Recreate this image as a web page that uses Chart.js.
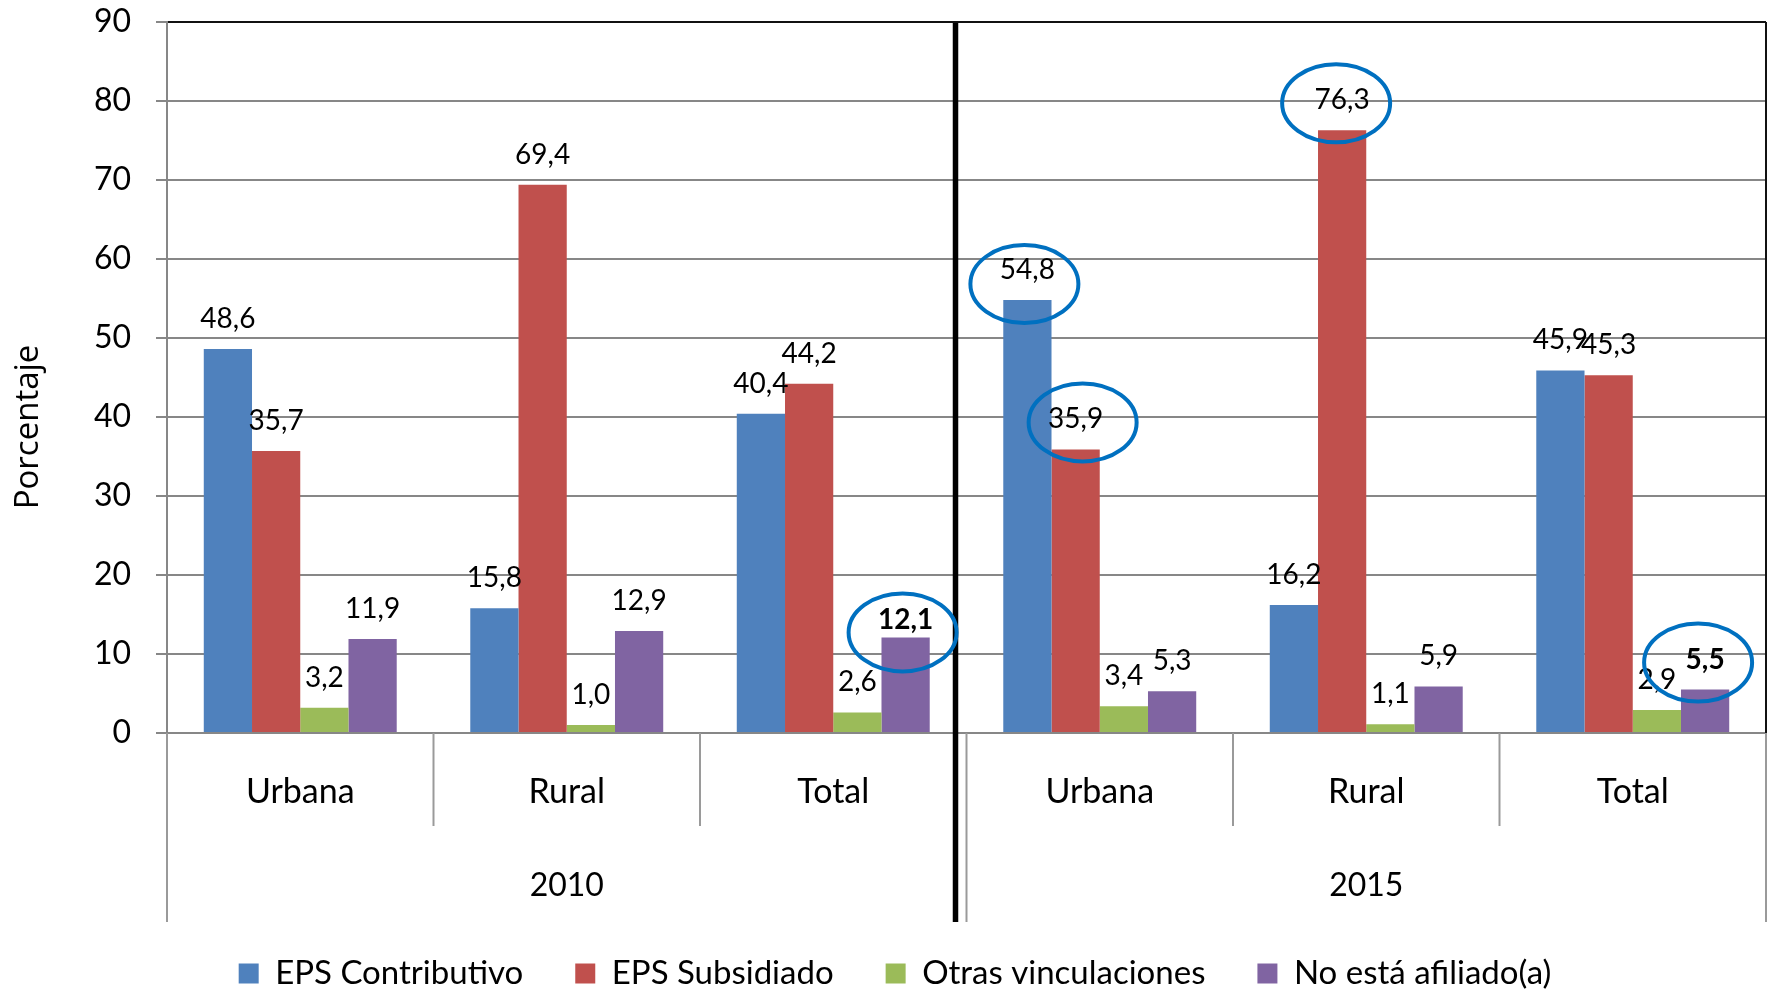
<!DOCTYPE html>
<html>
<head>
<meta charset="utf-8">
<script src="https://cdn.jsdelivr.net/npm/chart.js@4.4.1/dist/chart.umd.min.js"></script>
<style>
    html, body { margin: 0; padding: 0; background: #fff; }
    #wrap { width: 1773px; height: 992px; }
</style>
</head>
<body>
<div id="wrap"><canvas id="afiliacionChart" width="1773" height="992"></canvas></div>
<script>
/* DATA */
const categories = ["Urbana", "Rural", "Total", "Urbana", "Rural", "Total"];
const years = ["2010", "2015"];
const seriesNames = ["EPS Contributivo", "EPS Subsidiado", "Otras vinculaciones", "No está afiliado(a)"];

const contributivo = [48.6, 15.8, 40.4, 54.8, 16.2, 45.9];
const subsidiado   = [35.7, 69.4, 44.2, 35.9, 76.3, 45.3];
const otras        = [3.2, 1.0, 2.6, 3.4, 1.1, 2.9];
const noAfiliado   = [11.9, 12.9, 12.1, 5.3, 5.9, 5.5];

const yTicks = [0, 10, 20, 30, 40, 50, 60, 70, 80, 90];

// [dataset, index] pairs that get a bold label / a blue ring
const boldLabels = [[3, 2], [3, 5]];
const ringed = [[0, 3], [1, 3], [1, 4], [3, 2], [3, 5]];


/* STYLE */
const colors = ["#4F81BD", "#C0504D", "#9BBB59", "#8064A2"];
const gridGrey = "#878787";
const FONT = "Lato, 'Liberation Sans', sans-serif";

// fine tuning of ring / label placement, per ringed point
const ringOffsets = {
    "0-3": { dx: -3, dy: -16 },
    "1-3": { dx: 7, dy: -27 },
    "1-4": { dx: -6, dy: -27 },
    "3-2": { dx: -3, dy: -5 },
    "3-5": { dx: -7, dy: -27 }
};
const labelLift = { "3-2": 17 };


function fmt(v) {
    return v.toFixed(1).replace(".", ",");
}


/* DRAWING PLUGIN: labels, rings, two level axis */
const decorations = {
    id: "decorations",
    afterDatasetsDraw(chart) {
        const ctx = chart.ctx;
        const area = chart.chartArea;
        const xs = chart.scales.x;
        const bottomLong = 922;
        const bottomShort = 826;

        const px = i => xs.getPixelForValue(i);
        const boundary = i => (px(i - 1) + px(i)) / 2;

        ctx.save();

        // category dividers under the axis
        ctx.strokeStyle = "#9a9a9a";
        ctx.lineWidth = 2;
        for (let i = 0; i <= categories.length; i++) {
            let x;
            if (i === 0) x = area.left;
            else if (i === categories.length) x = area.right;
            else x = boundary(i);
            const long = i % 3 === 0;
            ctx.beginPath();
            ctx.moveTo(x, area.bottom);
            ctx.lineTo(x, long ? bottomLong : bottomShort);
            ctx.stroke();
        }

        // right border of plot
        ctx.strokeStyle = "#111";
        ctx.beginPath();
        ctx.moveTo(area.right, area.top);
        ctx.lineTo(area.right, area.bottom);
        ctx.stroke();

        // year labels
        ctx.fillStyle = "#000";
        ctx.font = "32px " + FONT;
        ctx.textAlign = "center";
        ctx.textBaseline = "middle";
        years.forEach((y, k) => {
            ctx.fillText(y, px(k * 3 + 1), 886);
        });

        // thick separator between years
        const sepX = boundary(3) - 11;
        ctx.strokeStyle = "#000";
        ctx.lineWidth = 5.5;
        ctx.beginPath();
        ctx.moveTo(sepX, area.top + 1);
        ctx.lineTo(sepX, bottomLong);
        ctx.stroke();

        // value labels
        chart.data.datasets.forEach((ds, d) => {
            const meta = chart.getDatasetMeta(d);
            meta.data.forEach((bar, i) => {
                const key = d + "-" + i;
                const bold = boldLabels.some(b => b[0] === d && b[1] === i);
                const lift = labelLift[key] || 30;
                ctx.font = (bold ? "bold " : "") + "28px " + FONT;
                ctx.fillStyle = "#000";
                ctx.fillText(fmt(ds.data[i]), bar.x, bar.y - lift);
            });
        });

        // blue rings
        ctx.strokeStyle = "#0070C0";
        ctx.lineWidth = 4;
        ringed.forEach(([d, i]) => {
            const bar = chart.getDatasetMeta(d).data[i];
            const off = ringOffsets[d + "-" + i];
            ctx.beginPath();
            ctx.ellipse(bar.x + off.dx, bar.y + off.dy, 54, 39, 0, 0, Math.PI * 2);
            ctx.stroke();
        });

        // y axis title
        ctx.translate(29, 427);
        ctx.rotate(-Math.PI / 2);
        ctx.font = "33px 'Open Sans', sans-serif";
        ctx.fillStyle = "#000";
        ctx.fillText("Porcentaje", 0, 0);

        ctx.restore();
    }
};


/* CHART */
const series = [contributivo, subsidiado, otras, noAfiliado];

new Chart(document.getElementById("afiliacionChart"), {
    type: "bar",
    data: {
        labels: categories,
        datasets: series.map((vals, k) => ({
            label: seriesNames[k],
            data: vals,
            backgroundColor: colors[k],
            borderWidth: 0,
            categoryPercentage: 0.724,
            barPercentage: 1.0
        }))
    },
    options: {
        responsive: false,
        animation: false,
        devicePixelRatio: 1,
        layout: { padding: { top: 22, right: 7, left: 24, bottom: -8 } },
        plugins: {
            legend: {
                position: "bottom",
                labels: {
                    boxWidth: 20,
                    boxHeight: 20,
                    padding: 52,
                    color: "#000",
                    font: { family: FONT, size: 33 }
                }
            },
            tooltip: { enabled: false }
        },
        scales: {
            x: {
                grid: { display: false },
                border: { display: false },
                ticks: {
                    color: "#000",
                    padding: 31,
                    maxRotation: 0,
                    font: { family: FONT, size: 34 }
                },
                afterFit: scale => { scale.height = 172; }
            },
            y: {
                min: 0,
                max: 90,
                afterBuildTicks: scale => {
                    scale.ticks = yTicks.map(v => ({ value: v }));
                },
                grid: {
                    color: c => c.tick && c.tick.value === 90 ? "#111" : gridGrey,
                    tickColor: gridGrey,
                    lineWidth: 2,
                    tickLength: 11
                },
                border: { color: gridGrey, width: 2 },
                ticks: {
                    color: "#000",
                    padding: 25,
                    font: { family: FONT, size: 32 }
                },
                afterFit: scale => {
                    scale.width = 143;
                    scale.paddingTop = 0;
                    scale.paddingBottom = 0;
                }
            }
        }
    },
    plugins: [decorations]
});
</script>
</body>
</html>
